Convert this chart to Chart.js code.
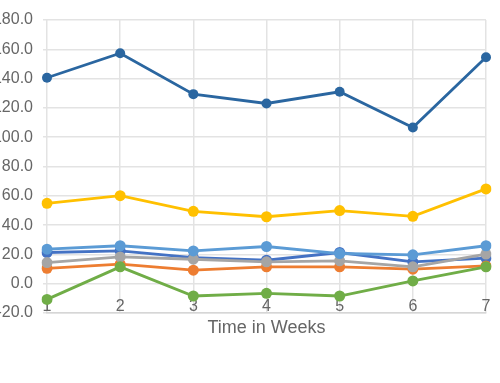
<!DOCTYPE html>
<html>
<head>
<meta charset="utf-8">
<script src="https://cdn.jsdelivr.net/npm/chart.js@4/dist/chart.umd.min.js"></script>
<style>
  html, body { margin: 0; padding: 0; background: #fff; overflow: hidden; }
  #wrap { position: absolute; left: -20px; top: 0; width: 520px; height: 383px; }
</style>
</head>
<body>
<div id="wrap"><canvas id="chart"></canvas></div>
<script>
var weeks = ['1', '2', '3', '4', '5', '6', '7'];

var series1 = [21.3, 22.4, 17.8, 16.0, 21.3, 14.9, 17.4];
var series2 = [10.5, 13.3, 9.2, 11.5, 11.5, 9.9, 12.1];
var series3 = [14.4, 18.3, 16.7, 14.9, 15.6, 11.5, 20.2];
var series4 = [54.9, 60.1, 49.4, 45.7, 49.9, 46.0, 64.7];
var series5 = [23.6, 25.9, 22.4, 25.4, 20.6, 19.7, 25.9];
var series6 = [-10.7, 11.5, -8.4, -6.6, -8.4, 1.9, 11.5];
var series7 = [140.6, 157.3, 129.4, 123.0, 131.0, 106.6, 154.6];

var yMin = -20, yMax = 180, yStep = 20;

(function(){
  var colors = ['#4472C4', '#ED7D31', '#A5A5A5', '#FFC000', '#5B9BD5', '#70AD47', '#2A66A0'];
  var all = [series1, series2, series3, series4, series5, series6, series7];

  var datasets = all.map(function(d, i) {
    return {
      label: 'Series ' + (i + 1),
      data: d,
      borderColor: colors[i],
      backgroundColor: colors[i],
      borderWidth: 2.8,
      pointRadius: i === 6 ? 5 : 5.5,
      pointBorderWidth: 0,
      tension: 0,
      order: all.length - i
    };
  });

  new Chart(document.getElementById('chart'), {
    type: 'line',
    data: { labels: weeks, datasets: datasets },
    options: {
      responsive: true,
      maintainAspectRatio: false,
      animation: false,
      layout: { padding: { top: 20, right: 14, bottom: 44, left: 0 } },
      plugins: { legend: { display: false }, tooltip: { enabled: false } },
      scales: {
        x: {
          grid: { color: '#e3e3e3', lineWidth: 1.5, drawTicks: false },
          border: { color: '#d6d6d6', width: 1.5 },
          // labels sit just above the bottom line, like the original
          ticks: { color: '#666', font: { family: 'Liberation Sans', size: 16 }, mirror: true, padding: -3, maxRotation: 0 },
          title: {
            display: true,
            text: 'Time in Weeks',
            color: '#666',
            font: { family: 'Liberation Sans', size: 18 },
            padding: 0
          },
          afterFit: function(s) { s.height = 26; }
        },
        y: {
          min: yMin,
          max: yMax,
          grid: { color: '#e3e3e3', lineWidth: 1.5, tickLength: 4 },
          border: { display: false },
          ticks: {
            stepSize: yStep,
            color: '#666',
            font: { family: 'Liberation Sans', size: 16 },
            padding: 10,
            callback: function(v) { return Number(v).toFixed(1); }
          },
          afterFit: function(s) { s.width = 67; }
        }
      }
    }
  });
})();
</script>
</body>
</html>
